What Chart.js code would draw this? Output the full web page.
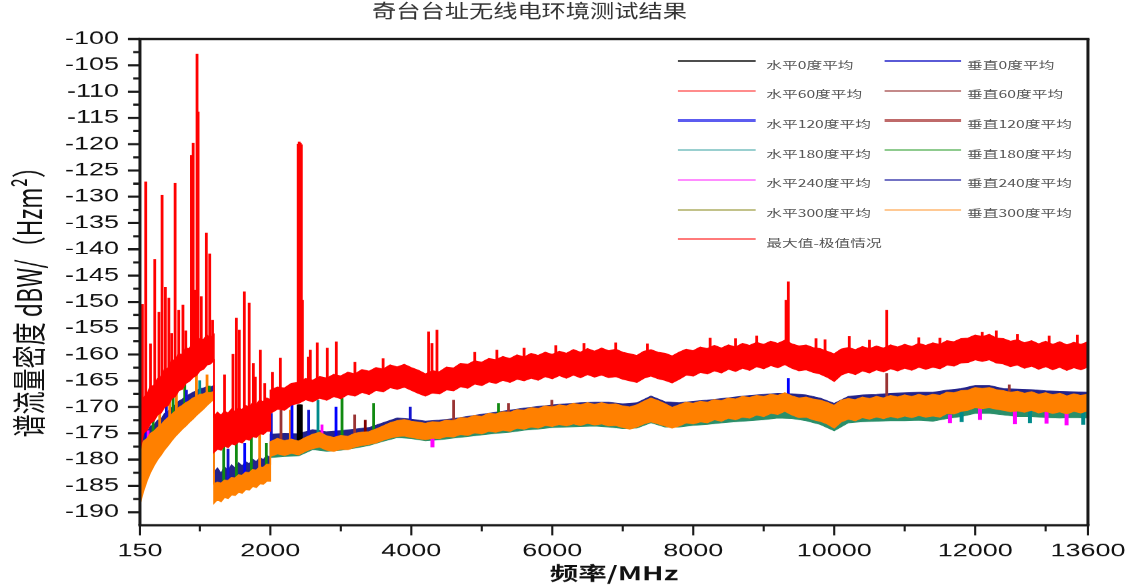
<!DOCTYPE html>
<html lang="zh">
<head>
<meta charset="UTF-8">
<title>奇台台址无线电环境测试结果</title>
<script src="https://cdn.jsdelivr.net/npm/chart.js"></script>
<style>
  html, body { margin: 0; padding: 0; background: #fff; }
  body { width: 1138px; height: 585px; overflow: hidden; }
  /* the original figure is stretched sideways, so the whole chart is drawn narrow and widened */
  .stage { position: relative; width: 759px; height: 585px; transform: scaleX(1.49934); transform-origin: 0 0; }
  .chart-box { position: absolute; left: 0; top: 0; width: 759px; height: 585px; }
  .legend-line { position: absolute; }
  .legend-text { position: absolute; font-family: "Noto Sans CJK SC"; font-size: 10.5px; line-height: 12px; color: #555; white-space: nowrap; }
</style>
</head>
<body>
<div class="stage">
  <div class="chart-box"><canvas id="spectrumChart"></canvas></div>
  <div id="legend"></div>
</div>
<script>
const titleText = '奇台台址无线电环境测试结果';
const xTitle = '频率/MHz';
const yTitle = '谱流量密度 dBW/（Hzm²）';

const traceNames = ['水平0度平均', '垂直0度平均', '水平60度平均', '垂直60度平均', '水平120度平均', '垂直120度平均',
  '水平180度平均', '垂直180度平均', '水平240度平均', '垂直240度平均', '水平300度平均', '垂直300度平均', '最大值-极值情况'];

const xTicks = [150, 2000, 4000, 6000, 8000, 10000, 12000, 13600];
const xMinorTicks = [1000, 3000, 5000, 7000, 9000, 11000, 13000];
const yTicks = [-190, -185, -180, -175, -170, -165, -160, -155, -150, -145, -140, -135, -130, -125, -120, -115, -110, -105, -100];

// sample frequencies (MHz) of the three measured bands
const freqSeg1 = [150, 200, 250, 300, 350, 400, 450, 500, 550, 600, 650, 700, 750, 800, 850, 900, 950, 1000, 1050, 1100, 1150, 1200];
const freqSeg2 = [1200, 1250, 1300, 1350, 1400, 1450, 1500, 1550, 1600, 1650, 1700, 1750, 1800, 1850, 1900, 1950, 2000];
const freqSeg3 = [2000, 2100, 2200, 2300, 2400, 2500, 2600, 2700, 2800, 2900,
  3000, 3100, 3200, 3300, 3400, 3500, 3600, 3700, 3800, 3900,
  4000, 4100, 4200, 4300, 4400, 4500, 4600, 4700, 4800, 4900,
  5000, 5100, 5200, 5300, 5400, 5500, 5600, 5700, 5800, 5900,
  6000, 6100, 6200, 6300, 6400, 6500, 6600, 6700, 6800, 6900,
  7000, 7100, 7200, 7300, 7400, 7500, 7600, 7700, 7800, 7900,
  8000, 8100, 8200, 8300, 8400, 8500, 8600, 8700, 8800, 8900,
  9000, 9100, 9200, 9300, 9400, 9500, 9600, 9700, 9800, 9900,
  10000, 10100, 10200, 10300, 10400, 10500, 10600, 10700, 10800, 10900,
  11000, 11100, 11200, 11300, 11400, 11500, 11600, 11700, 11800, 11900,
  12000, 12100, 12200, 12300, 12400, 12500, 12600, 12700, 12800, 12900,
  13000, 13100, 13200, 13300, 13400, 13500, 13600];
const freqSeg3c = [2000, 2200, 2400, 2600, 2800, 3000, 3200, 3400, 3600, 3800,
  4000, 4200, 4400, 4600, 4800, 5000, 5200, 5400, 5600, 5800,
  6000, 6200, 6400, 6600, 6800, 7000, 7200, 7400, 7600, 7800,
  8000, 8200, 8400, 8600, 8800, 9000, 9200, 9400, 9600, 9800,
  10000, 10200, 10400, 10600, 10800, 11000, 11200, 11400, 11600, 11800,
  12000, 12200, 12400, 12600, 12800, 13000, 13200, 13400, 13600];

// 最大值-极值情况: upper / lower edge of the noisy band
const maxUpper1 = [-171.5, -168.2, -167.6, -166.0, -165.9, -164.6, -164.2, -162.8, -162.6, -161.2, -161.0, -159.9, -160.0, -158.8, -158.9, -157.8, -158.0, -157.0, -157.2, -156.3, -156.8, -156.2];
const maxLower1 = [-178.3, -175.0, -174.4, -173.1, -172.6, -171.5, -171.1, -170.0, -169.7, -168.4, -168.0, -166.9, -166.6, -165.5, -165.1, -164.4, -164.0, -163.1, -162.8, -162.0, -161.8, -161.1];
const maxUpper2 = [-171.8, -171.0, -171.6, -170.8, -171.2, -170.4, -170.9, -170.2, -170.5, -169.7, -170.0, -169.2, -169.5, -168.7, -169.0, -168.3, -168.6];
const maxLower2 = [-178.6, -178.0, -178.2, -177.4, -177.7, -177.0, -177.2, -176.6, -176.8, -176.1, -176.3, -175.6, -175.8, -175.1, -175.2, -174.6, -174.6];
const maxUpper3 = [-166.8, -166.2, -166.4, -165.5, -165.3, -164.6, -164.9, -164.2, -164.5, -163.8,
  -164.1, -163.4, -163.7, -162.9, -163.2, -162.5, -162.8, -162.0, -162.4, -161.9,
  -162.5, -163.0, -163.7, -163.1, -163.3, -162.4, -162.6, -161.7, -161.9, -161.2,
  -161.5, -160.8, -161.0, -160.4, -160.8, -160.1, -160.5, -159.8, -160.2, -159.6,
  -160.0, -159.4, -159.8, -159.1, -159.6, -158.9, -159.4, -158.8, -159.3, -159.0,
  -159.6, -159.9, -160.2, -159.4, -159.1, -159.6, -159.8, -160.3, -159.6, -159.0,
  -159.3, -158.6, -158.9, -158.3, -158.8, -158.2, -158.6, -157.9, -158.3, -157.7,
  -158.1, -157.5, -157.9, -157.3, -158.0, -158.4, -158.2, -158.7, -158.9, -159.4,
  -159.9, -159.0, -158.7, -159.1, -158.5, -158.9, -158.4, -158.8, -158.2, -158.6,
  -158.1, -158.5, -157.9, -158.3, -157.8, -158.1, -157.4, -157.6, -157.0, -156.9,
  -156.3, -156.6, -156.2, -156.9, -157.0, -157.5, -157.2, -157.8, -157.4, -158.0,
  -157.5, -158.1, -157.6, -158.2, -157.7, -158.1, -157.6];
const maxLower3 = [-171.2, -170.4, -170.6, -169.6, -169.3, -168.6, -169.0, -168.3, -168.7, -168.0,
  -168.4, -167.6, -167.9, -167.2, -167.6, -166.8, -167.1, -166.3, -166.6, -166.2,
  -166.8, -167.4, -167.9, -167.3, -167.5, -166.7, -166.9, -166.1, -166.4, -165.6,
  -165.9, -165.2, -165.5, -164.9, -165.3, -164.7, -165.0, -164.5, -164.9, -164.2,
  -164.6, -164.0, -164.5, -163.9, -164.4, -163.8, -164.3, -163.9, -164.4, -164.2,
  -164.7, -165.0, -165.3, -164.5, -164.1, -164.6, -164.9, -165.4, -164.7, -163.9,
  -164.1, -163.4, -163.7, -163.1, -163.5, -162.8, -163.2, -162.6, -163.0, -162.3,
  -162.7, -162.1, -162.5, -161.9, -162.6, -163.1, -162.9, -163.4, -163.7, -164.3,
  -165.1, -163.9, -163.4, -163.8, -163.1, -163.5, -162.9, -163.3, -162.7, -163.1,
  -162.6, -163.0, -162.4, -162.8, -162.4, -162.7, -162.0, -162.2, -161.6, -161.5,
  -161.0, -161.3, -161.0, -161.6, -161.8, -162.3, -162.0, -162.6, -162.2, -162.8,
  -162.3, -162.9, -162.4, -163.0, -162.5, -162.9, -162.4];

// 垂直300度平均 (drawn on top of the other averaged traces)
const v300Upper1 = [-177.8, -176.5, -176.0, -175.0, -174.6, -173.9, -173.4, -172.6, -172.0, -171.4, -170.8, -170.1, -169.7, -169.2, -168.8, -168.3, -168.0, -167.6, -167.5, -167.2, -167.3, -167.0];
const v300Lower1 = [-188.4, -186.0, -184.0, -182.4, -181.1, -180.0, -179.1, -178.1, -177.3, -176.4, -175.6, -174.9, -174.2, -173.6, -172.9, -172.3, -171.6, -171.0, -170.4, -169.7, -169.1, -168.5];
const v300Upper2 = [-184.6, -184.3, -184.5, -183.9, -184.0, -183.4, -183.5, -182.9, -183.0, -182.4, -182.5, -181.9, -182.0, -181.4, -181.5, -180.9, -180.9];
const v300Lower2 = [-188.3, -187.6, -188.0, -187.2, -187.4, -186.7, -186.8, -186.2, -186.4, -185.7, -185.8, -185.1, -185.3, -184.6, -184.7, -184.1, -184.1];
const v300Upper3 = [-176.6, -176.0, -176.4, -176.1, -176.5, -175.8, -175.2, -174.8, -175.5, -175.8,
  -175.4, -175.6, -175.0, -174.8, -174.7, -174.2, -173.6, -173.0, -172.6, -172.4,
  -172.7, -172.9, -173.1, -172.8, -172.9, -172.5, -172.6, -172.0, -172.1, -171.6,
  -171.8, -171.2, -171.3, -170.9, -171.0, -170.5, -170.6, -170.1, -170.3, -169.8,
  -170.0, -169.6, -169.8, -169.3, -169.6, -169.2, -169.5, -169.2, -169.5, -169.4,
  -169.8, -170.0, -169.6, -168.9, -168.3, -168.8, -169.4, -170.1, -169.6, -169.1,
  -169.3, -168.9, -169.1, -168.6, -168.8, -168.3, -168.5, -168.0, -168.2, -167.8,
  -168.0, -167.6, -167.8, -167.3, -167.9, -168.3, -168.1, -168.5, -168.7, -169.1,
  -169.7, -168.7, -168.4, -168.6, -168.1, -168.4, -168.0, -168.3, -167.8, -168.1,
  -167.7, -168.0, -167.6, -167.9, -167.6, -167.8, -167.2, -167.3, -166.9, -166.8,
  -166.3, -166.5, -166.3, -166.7, -166.9, -167.2, -167.0, -167.4, -167.1, -167.6,
  -167.3, -167.7, -167.4, -167.9, -167.5, -167.8, -167.6];
const v300Lower3 = [-179.4, -178.9, -179.2, -178.8, -179.1, -178.4, -177.9, -177.6, -178.2, -178.4,
  -178.0, -178.1, -177.6, -177.3, -177.1, -176.8, -176.3, -175.9, -175.6, -175.5,
  -175.8, -176.0, -176.2, -175.9, -176.0, -175.6, -175.7, -175.2, -175.4, -174.9,
  -175.1, -174.6, -174.8, -174.4, -174.6, -174.0, -174.2, -173.8, -174.0, -173.5,
  -173.7, -173.3, -173.6, -173.2, -173.5, -173.1, -173.4, -173.2, -173.6, -173.5,
  -173.9, -174.2, -173.8, -173.2, -172.8, -173.2, -173.6, -174.0, -173.6, -173.0,
  -173.2, -172.8, -173.0, -172.4, -172.7, -172.1, -172.4, -171.9, -172.1, -171.5,
  -171.8, -171.2, -171.4, -170.8, -171.5, -172.0, -171.9, -172.4, -172.7, -173.2,
  -174.0, -172.8, -172.3, -172.6, -172.0, -172.3, -171.9, -172.2, -171.8, -172.1,
  -171.7, -172.0, -171.6, -171.9, -171.7, -171.9, -171.2, -171.3, -170.8, -170.6,
  -170.1, -170.3, -170.1, -170.4, -170.6, -170.9, -170.7, -171.0, -170.6, -171.1,
  -170.8, -171.2, -170.9, -171.3, -170.8, -171.1, -170.7];

// top of the other averaged traces (mostly hidden under 垂直300度) and the bottom edge of them
const othersTop1 = [-176.2, -175.0, -174.8, -173.6, -173.4, -172.5, -172.3, -171.2, -170.8, -170.1, -169.6, -168.9, -168.5, -168.0, -167.6, -167.2, -166.9, -166.5, -166.4, -166.1, -166.2, -165.9];
const othersTop2 = [-182.4, -181.6, -182.6, -181.4, -182.0, -181.0, -181.6, -180.6, -181.2, -180.4, -180.8, -179.9, -180.4, -179.6, -180.0, -179.2, -179.6];
const othersTop3 = [-175.2, -175.0, -175.1, -174.3, -174.7, -174.5, -174.2, -173.9, -173.0, -172.1,
  -172.3, -172.7, -172.5, -172.2, -171.8, -171.4, -171.0, -170.6, -170.2, -169.9,
  -169.6, -169.4, -169.2, -169.1, -169.1, -169.4, -169.2, -167.9, -169.0, -169.2,
  -168.9, -168.7, -168.4, -168.1, -167.8, -167.6, -167.4, -167.5, -167.7, -168.3,
  -169.3, -168.0, -167.7, -167.6, -167.4, -167.3, -167.2, -167.2, -166.8, -166.5,
  -165.9, -165.9, -166.5, -166.6, -166.7, -166.9, -167.0, -167.1, -167.2];
const othersBottom3 = [-179.6, -179.4, -179.3, -178.1, -178.4, -178.2, -177.8, -177.3, -176.5, -175.8,
  -176.0, -176.4, -176.2, -175.9, -175.6, -175.3, -175.0, -174.8, -174.4, -174.2,
  -173.9, -173.8, -173.7, -173.6, -173.8, -174.1, -174.0, -173.0, -173.8, -173.8,
  -173.5, -173.3, -173.0, -172.8, -172.6, -172.4, -172.1, -172.2, -172.6, -173.3,
  -174.5, -173.0, -172.8, -172.7, -172.6, -172.6, -172.5, -172.7, -172.2, -171.8,
  -171.2, -171.2, -171.5, -171.8, -171.8, -172.0, -172.1, -172.0, -172.1];

// narrow peaks of the max trace
const maxSpikeFreq = [185, 232, 300, 360, 420, 464, 511, 560, 600, 649, 700, 760, 800, 880, 905, 930, 960, 975, 1020, 1092, 1140, 1180,
  1350, 1470, 1518, 1560, 1631, 1700, 1759, 1787, 1858, 1920,
  2030, 2142, 2395, 2410, 2425, 2440, 2455, 2539, 2567, 2666, 2808, 2936, 3200, 3600, 4245, 4293, 4364, 4900, 5214, 5600, 6050, 6450, 6900, 7350,
  8240, 8600, 8900, 9317, 9349, 9742, 9870, 10214, 10500, 10745, 11200, 11500, 12100, 12300, 12600, 13050, 13450];
const maxSpikeBase = [-172, -170, -169, -168, -167, -166, -165.5, -165, -164.5, -164, -163, -162.5, -162, -161, -161, -160.5, -160, -160, -159.5, -159, -158.5, -158.5,
  -174, -173.5, -173.5, -173, -173, -172.5, -172, -172, -171.5, -171.5,
  -168.5, -168, -167, -167, -167, -167, -167, -166.5, -166.5, -166, -166, -166, -165.5, -164.5, -165.5, -165.5, -165, -163.5, -163, -162.5, -162, -161.5, -161.5, -161.5,
  -161, -160.5, -160, -160, -160, -161, -161.5, -161, -161, -161, -160.5, -160.5, -159, -159, -159.5, -160, -160];
const maxSpikeTop = [-150.5, -127.2, -158.0, -141.9, -152.0, -129.7, -147.2, -149.3, -156.0, -127.4, -151.6, -150.6, -155.5, -122.1, -119.8, -147.8, -102.9, -113.9, -149.0, -136.9, -140.9, -153.5,
  -163.9, -160.0, -153.1, -155.4, -148.1, -150.2, -161.7, -164.3, -159.2, -165.5,
  -163.4, -160.7, -120.0, -119.6, -119.8, -120.1, -149.7, -160.5, -159.2, -157.8, -158.8, -157.6, -161.5, -160.8, -155.7, -157.9, -155.4, -159.6, -159.2, -158.8, -158.3, -157.9, -157.8, -158.0,
  -156.9, -157.0, -156.5, -149.7, -146.2, -157.0, -157.2, -156.6, -157.3, -151.6, -156.8, -156.9, -155.8, -155.5, -156.2, -156.5, -156.3];

// narrow peaks of the averaged traces (trace = index in traceNames)
const avgSpikeFreq = [242, 266, 337, 430, 525, 572, 620, 667, 785, 809, 951, 998, 1102, 1135,
  1338, 1400, 1518, 1636, 1731, 1848, 1943,
  2014, 2151, 2284, 2307, 2395, 2410, 2425, 2440, 2543, 2676, 2733, 2932, 3017, 3196, 3347, 3465, 3985, 4600, 5237, 5379, 5994, 9349, 10745, 12484];
const avgSpikeBase = [-176, -176, -174.8, -173.6, -172.4, -172, -171.5, -170.8, -169.5, -169.2, -168, -167.7, -167.2, -167.2,
  -184, -184, -183.3, -182.8, -182.4, -181.6, -181,
  -176.5, -176.2, -176.2, -176.2, -176.3, -176.3, -176.3, -176.3, -175.6, -174.9, -175, -175.7, -175.4, -175, -174.8, -174.3, -172.7, -172.6, -171.2, -171, -170, -167.8, -168.2, -167];
const avgSpikeTop = [-172.5, -174.5, -171.2, -169.3, -168.3, -166.8, -168.1, -164.9, -163.9, -166.8, -162.6, -165.0, -163.9, -166.0,
  -175.7, -178.0, -176.9, -176.9, -175.7, -174.8, -176.9,
  -171.2, -170.6, -170.6, -169.0, -169.6, -169.6, -169.6, -169.6, -170.6, -168.7, -173.4, -170.0, -168.4, -171.5, -172.5, -169.3, -170.0, -168.7, -169.3, -169.3, -168.7, -164.6, -163.6, -165.8];
const avgSpikeTrace = [1, 8, 7, 11, 4, 11, 7, 11, 7, 4, 11, 6, 11, 7,
  7, 4, 7, 1, 7, 11, 7,
  4, 3, 11, 1, 0, 0, 0, 0, 4, 6, 8, 1, 7, 3, 5, 7, 4, 3, 7, 3, 3, 1, 3, 3];

// downward excursions below the orange band
const dipFreq = [4300, 11642, 11808, 12068, 12564, 12777, 13013, 13297, 13533];
const dipTop = [-175.8, -171.5, -171.0, -170.2, -170.8, -170.8, -170.8, -171.2, -171.0];
const dipBottom = [-177.6, -173.0, -172.8, -172.4, -173.2, -173.0, -173.1, -173.4, -173.3];
const dipTrace = [8, 8, 6, 8, 8, 6, 8, 8, 6];

// styles
const traceColors = ['#000000', '#0000ff', '#ff6060', '#993333', '#1414d0', '#800000', '#008b8b', '#118a11', '#ff00ff', '#000080', '#808000', '#ff8000', '#ff0000'];
const legendColors = ['#4d4d4d', '#5a5ad6', '#ff8c8c', '#c48a8a', '#5c5cf0', '#bf6a6a', '#99cfcf', '#8fcb8f', '#ff8cff', '#7373c4', '#c2c28a', '#ffc994', '#ff7a7a'];
const legendWidths = [1.2, 1.4, 1.8, 1.8, 2.4, 2.4, 2, 2, 1.8, 1.8, 2, 2, 1.8];

const zip = (freqs, vals) => freqs.map((f, i) => ({ x: f, y: vals[i] }));
const bars = (freqs, lo, hi) => freqs.map((f, i) => ({ x: f, y: [lo[i], hi[i]] }));

const band = (data, color, fill, width = 1) => ({
  type: 'line', data, borderColor: color, backgroundColor: color, borderWidth: width,
  pointRadius: 0, tension: 0, fill
});
const spikes = (data, colors, thickness) => ({
  type: 'bar', data, backgroundColor: colors, borderWidth: 0, grouped: false, barThickness: thickness
});

const datasets = [
  spikes(bars(maxSpikeFreq, maxSpikeBase, maxSpikeTop), traceColors[12], 1.2),
  band([...zip(freqSeg1, maxUpper1), ...zip(freqSeg2, maxUpper2), ...zip(freqSeg3, maxUpper3)], traceColors[12], '+1'),
  band([...zip(freqSeg1, maxLower1), ...zip(freqSeg2, maxLower2), ...zip(freqSeg3, maxLower3)], traceColors[12], false),
  band([...zip(freqSeg1, v300Upper1), ...zip(freqSeg2, v300Upper2), ...zip(freqSeg3, v300Upper3)], traceColors[11], '+1'),
  band([...zip(freqSeg1, v300Lower1), ...zip(freqSeg2, v300Lower2), ...zip(freqSeg3, v300Lower3)], traceColors[11], false),
  spikes(bars(avgSpikeFreq, avgSpikeBase, avgSpikeTop), avgSpikeTrace.map(t => traceColors[t]), 1.2),
  spikes(bars(dipFreq, dipBottom, dipTop), dipTrace.map(t => traceColors[t]), 2),
  band([...zip(freqSeg1, othersTop1), ...zip(freqSeg2, othersTop2), ...zip(freqSeg3c, othersTop3)], '#23238a', 3, 0.8),
  band(zip(freqSeg3c, othersBottom3), '#2a8f6a', 4, 0.8)
];

const framePlugin = {
  id: 'frame',
  afterDraw(chart) {
    const { ctx, chartArea: a, scales: { x, y } } = chart;
    ctx.save();
    ctx.strokeStyle = '#1a1a1a';
    ctx.lineWidth = 2.4;
    ctx.beginPath();
    ctx.moveTo(a.left - 1, a.top); ctx.lineTo(a.right + 1, a.top);
    ctx.moveTo(a.left - 1, a.bottom); ctx.lineTo(a.right + 1, a.bottom);
    ctx.stroke();
    ctx.lineWidth = 2;
    ctx.beginPath();
    ctx.moveTo(a.left, a.top); ctx.lineTo(a.left, a.bottom);
    ctx.moveTo(a.right, a.top); ctx.lineTo(a.right, a.bottom);
    ctx.stroke();

    // tick marks, pointing outwards
    const yMinor = yTicks.slice(1).map((v, i) => (v + yTicks[i]) / 2);
    ctx.lineWidth = 2.2;
    ctx.beginPath();
    yTicks.forEach(v => { const p = y.getPixelForValue(v); ctx.moveTo(a.left - 8, p); ctx.lineTo(a.left, p); });
    yMinor.forEach(v => { const p = y.getPixelForValue(v); ctx.moveTo(a.left - 4.5, p); ctx.lineTo(a.left, p); });
    ctx.stroke();
    ctx.lineWidth = 1.4;
    ctx.beginPath();
    xTicks.forEach(v => { const p = x.getPixelForValue(v); ctx.moveTo(p, a.bottom); ctx.lineTo(p, a.bottom + 10); });
    xMinorTicks.forEach(v => { const p = x.getPixelForValue(v); ctx.moveTo(p, a.bottom); ctx.lineTo(p, a.bottom + 6); });
    ctx.stroke();

    ctx.textAlign = 'center';
    ctx.textBaseline = 'middle';
    // title
    ctx.save();
    ctx.fillStyle = '#333';
    ctx.font = '19px "Noto Sans CJK SC"';
    ctx.translate(353, 11);
    ctx.scale(0.85, 1);
    ctx.fillText(titleText, 0, 0);
    ctx.restore();
    // axis titles
    ctx.fillStyle = '#111';
    ctx.font = 'bold 19px "Noto Sans CJK SC"';
    ctx.fillText(xTitle, (a.left + a.right) / 2, 573);
    ctx.translate(19, 296);
    ctx.rotate(-Math.PI / 2);
    ctx.font = '23px "Noto Sans CJK SC"';
    ctx.fillText(yTitle, 0, 0);
    ctx.restore();
  }
};

new Chart(document.getElementById('spectrumChart'), {
  type: 'line',
  data: { datasets },
  options: {
    responsive: true,
    maintainAspectRatio: false,
    devicePixelRatio: 1.5,
    animation: false,
    events: [],
    layout: { padding: { top: 39, right: 33.7, left: 0, bottom: 0 } },
    plugins: { legend: { display: false }, tooltip: { enabled: false } },
    scales: {
      x: {
        type: 'linear', min: 150, max: 13600, offset: false,
        grid: { display: false, drawTicks: false }, border: { display: false },
        afterBuildTicks: axis => { axis.ticks = xTicks.map(v => ({ value: v })); },
        afterFit: axis => { axis.height = 60; axis.paddingLeft = 0; axis.paddingRight = 0; },
        ticks: { autoSkip: false, maxRotation: 0, padding: 15, color: '#111', font: { family: 'Liberation Sans', size: 18 },
          callback: v => String(v) }
      },
      y: {
        type: 'linear', min: -192.5, max: -100,
        grid: { display: false, drawTicks: false }, border: { display: false },
        afterBuildTicks: axis => { axis.ticks = yTicks.map(v => ({ value: v })); },
        afterFit: axis => { axis.width = 93.3; axis.paddingTop = 0; axis.paddingBottom = 0; },
        ticks: { autoSkip: false, padding: 14, color: '#111', font: { family: 'Liberation Sans', size: 18 },
          callback: v => String(v) }
      }
    }
  },
  plugins: [framePlugin]
});

// legend, two columns inside the plot
const legend = document.getElementById('legend');
traceNames.forEach((name, i) => {
  const col = i % 2, row = Math.floor(i / 2);
  const y = 61 + row * 29.7;
  const line = document.createElement('div');
  line.className = 'legend-line';
  line.style.left = (col ? 590 : 452) + 'px';
  line.style.width = (col ? 51 : 52) + 'px';
  line.style.top = (y - legendWidths[i] / 2) + 'px';
  line.style.height = legendWidths[i] + 'px';
  line.style.background = legendColors[i];
  legend.appendChild(line);
  const text = document.createElement('div');
  text.className = 'legend-text';
  text.style.left = (col ? 645 : 511) + 'px';
  text.style.top = (y - 2.5) + 'px';
  text.textContent = name;
  legend.appendChild(text);
});
</script>
</body>
</html>
